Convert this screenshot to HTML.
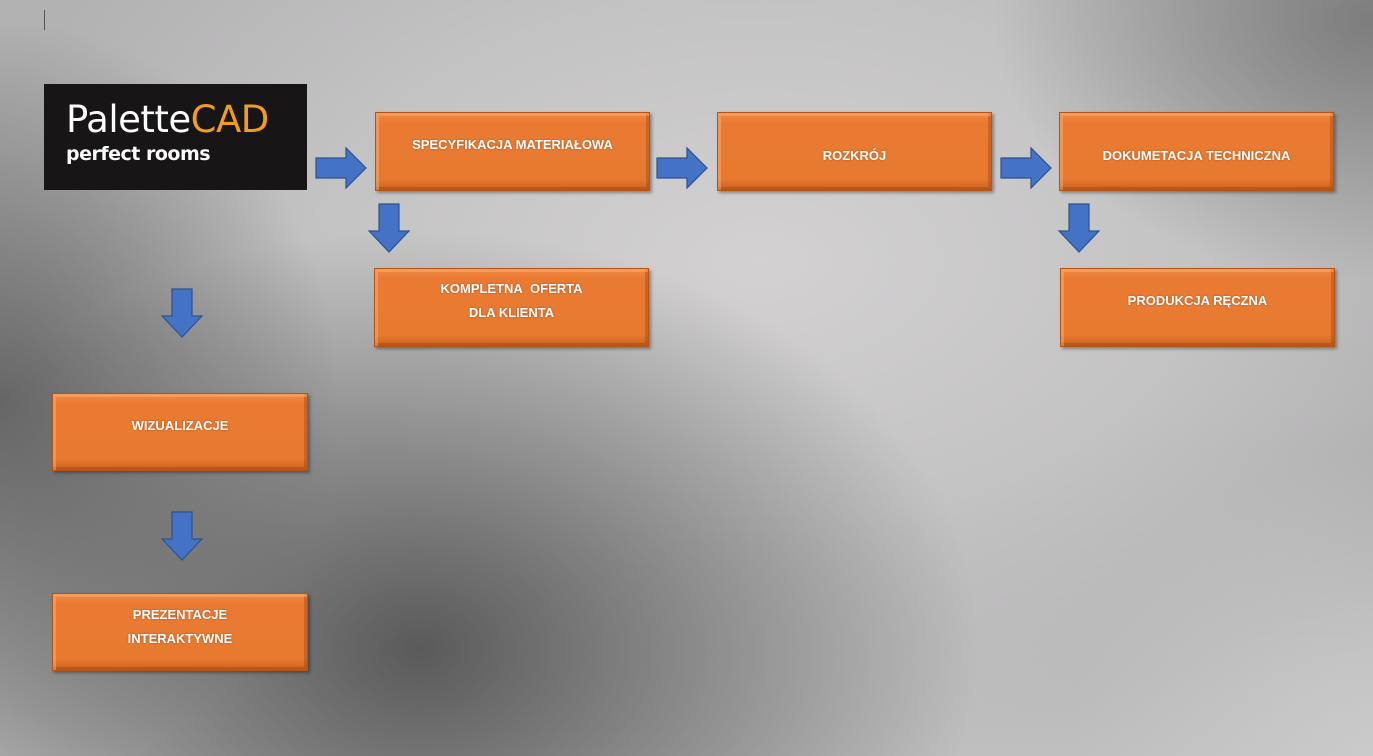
<!DOCTYPE html>
<html><head><meta charset="utf-8"><style>
body{margin:0;width:1373px;height:756px;overflow:hidden;position:relative;font-family:"Liberation Sans",sans-serif;
background:
radial-gradient(ellipse 560px 420px at 420px 650px, rgba(85,85,85,0.95), rgba(85,85,85,0) 100%),
radial-gradient(ellipse 340px 380px at 0px 400px, rgba(95,95,95,0.9), rgba(95,95,95,0) 100%),
radial-gradient(ellipse 380px 260px at 1373px 20px, rgba(115,115,115,0.85), rgba(115,115,115,0) 100%),
radial-gradient(ellipse 300px 300px at 1373px 756px, rgba(205,205,205,0.8), rgba(205,205,205,0) 100%),
radial-gradient(ellipse 800px 480px at 760px 260px, #d3d1d2, #c4c3c4 55%, rgba(190,190,190,0) 100%),
linear-gradient(180deg,#b3b2b3,#adacad 60%,#c0bfc0);}
.b{position:absolute;background:linear-gradient(180deg,#f08a45 0%,#ea7a32 12%,#e87a30 85%,#c9621f 100%);
border:1px solid #b25516;box-shadow:inset 3px 3px 0 rgba(255,180,120,.45),inset -3px -3px 0 rgba(150,60,10,.35),2px 2px 3px rgba(0,0,0,.35);
color:#fff;font-weight:bold;font-size:13px;text-align:center;box-sizing:border-box;text-shadow:0 0 2px rgba(0,0,0,.3)}
.b span{position:absolute;left:0;right:0;line-height:24px}
svg{position:absolute;overflow:visible}
</style></head><body>
<div style="position:absolute;left:44px;top:10px;width:1px;height:20px;background:#555"></div>
<div style="position:absolute;left:44px;top:84px;width:263px;height:106px;background:#171516">
<div style="position:absolute;left:22px;top:14px;font-size:37px;color:#fff;font-family:'DejaVu Sans',sans-serif;font-weight:500;letter-spacing:-0.5px">Palette<span style="color:#f39c1a">CAD</span></div>
<div style="position:absolute;left:22px;top:59px;font-size:19px;color:#fff;font-weight:bold;font-family:'DejaVu Sans',sans-serif;letter-spacing:-0.5px">perfect rooms</div>
</div>

<div class="b" style="left:375px;top:112px;width:275px;height:79px"><span style="top:20px">SPECYFIKACJA MATERIAŁOWA</span></div>
<div class="b" style="left:717px;top:112px;width:275px;height:79px"><span style="top:31px">ROZKRÓJ</span></div>
<div class="b" style="left:1059px;top:112px;width:275px;height:79px"><span style="top:31px">DOKUMETACJA TECHNICZNA</span></div>
<div class="b" style="left:374px;top:268px;width:275px;height:79px"><span style="top:8px">KOMPLETNA&nbsp; OFERTA<br>DLA KLIENTA</span></div>
<div class="b" style="left:1060px;top:268px;width:275px;height:79px"><span style="top:20px">PRODUKCJA RĘCZNA</span></div>
<div class="b" style="left:52px;top:393px;width:256px;height:78px"><span style="top:20px">WIZUALIZACJE</span></div>
<div class="b" style="left:52px;top:593px;width:256px;height:78px"><span style="top:9px">PREZENTACJE<br>INTERAKTYWNE</span></div>

<svg width="1373" height="756" style="left:0;top:0">
<defs>
<g id="r"><polygon points="0,10 30,10 30,0 50,20 30,40 30,30 0,30" fill="#4472c4" stroke="#2f528f" stroke-width="1.2"/></g>
<g id="d"><polygon points="10,0 30,0 30,27 40,27 20,48 0,27 10,27" fill="#4472c4" stroke="#2f528f" stroke-width="1.2"/></g>
</defs>
<use href="#r" x="316" y="148"/><use href="#r" x="657" y="148"/><use href="#r" x="1001" y="148"/>
<use href="#d" x="369" y="204"/><use href="#d" x="1059" y="204"/><use href="#d" x="162" y="289"/><use href="#d" x="162" y="512"/>
</svg>
</body></html>
